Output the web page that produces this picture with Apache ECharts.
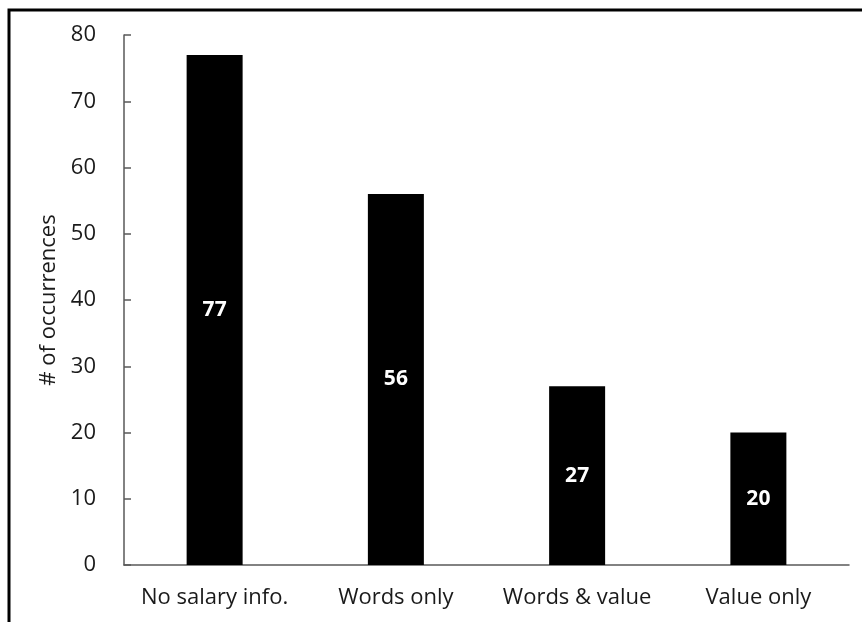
<!DOCTYPE html>
<html>
<head>
<meta charset="utf-8">
<script src="https://cdn.jsdelivr.net/npm/echarts@6/dist/echarts.min.js"></script>
<style>
html,body{margin:0;padding:0;background:#fff;}
#chart{width:862px;height:622px;}
</style>
</head>
<body>
<div id="chart"></div>
<script>
const categories = ["No salary info.", "Words only", "Words & value", "Value only"];
const occurrences = [77, 56, 27, 20];
const yTicks = { min: 0, max: 80, interval: 10 };
const yAxisName = "# of occurrences";

const chart = echarts.init(document.getElementById('chart'));
const font = '"Open Sans", sans-serif';
chart.setOption({
  animation: false,
  backgroundColor: '#fff',
  graphic: [{
    type: 'rect',
    shape: { x: 9, y: 10, width: 900, height: 700 },
    style: { fill: 'none', stroke: '#000', lineWidth: 3 },
    silent: true
  }],
  grid: { left: 124, right: 13, top: 35, bottom: 57 },
  xAxis: {
    type: 'category',
    data: categories,
    axisLine: { lineStyle: { color: '#595959', width: 1.5 } },
    axisTick: { show: false },
    axisLabel: { interval: 0, hideOverlap: false, color: '#1a1a1a', fontSize: 22, fontFamily: font, margin: 22 }
  },
  yAxis: {
    type: 'value',
    min: yTicks.min, max: yTicks.max, interval: yTicks.interval,
    name: yAxisName,
    nameLocation: 'middle',
    nameGap: 58,
    nameTextStyle: { color: '#1a1a1a', fontSize: 22, fontFamily: font },
    axisLine: { show: true, lineStyle: { color: '#595959', width: 1.5 } },
    axisTick: { show: true, inside: true, length: 7, lineStyle: { color: '#595959', width: 1.5 } },
    splitLine: { show: false },
    axisLabel: { color: '#1a1a1a', fontSize: 22, fontFamily: font, margin: 28 }
  },
  series: [{
    type: 'bar',
    data: occurrences,
    barWidth: 56,
    itemStyle: { color: '#000' },
    label: {
      show: true, position: 'inside', color: '#fff',
      fontWeight: 'bold', fontSize: 21, fontFamily: font
    }
  }]
});
</script>
</body>
</html>
